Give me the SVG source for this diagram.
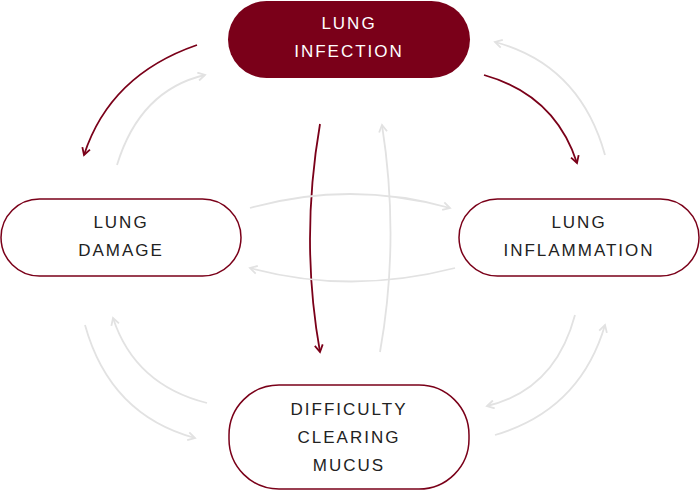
<svg xmlns="http://www.w3.org/2000/svg" width="700" height="491" viewBox="0 0 700 491">
<style>
.n{fill:#fff;stroke:#7a0019;stroke-width:1.5}
.t{font-family:"Liberation Sans",Arial,sans-serif;font-size:17px;letter-spacing:2px;fill:#222;text-anchor:middle}
.r{fill:none;stroke:#7a0019;stroke-width:1.8}
.g{fill:none;stroke:#e2e2e2;stroke-width:1.8}
</style>
<defs>
<marker id="mr" viewBox="0 0 10 10" refX="8" refY="5" markerWidth="10" markerHeight="10" orient="auto" markerUnits="userSpaceOnUse"><path d="M1,1 L8,5 L1,9" fill="none" stroke="#7a0019" stroke-width="1.8"/></marker>
<marker id="mg" viewBox="0 0 10 10" refX="8" refY="5" markerWidth="10" markerHeight="10" orient="auto" markerUnits="userSpaceOnUse"><path d="M1,1 L8,5 L1,9" fill="none" stroke="#e2e2e2" stroke-width="1.8"/></marker>
</defs>
<g id="connectors">
<path class="r" d="M197,45 Q110,75 84,155" marker-end="url(#mr)"/>
<path class="r" d="M484,75 Q555,95 577,163" marker-end="url(#mr)"/>
<path class="r" d="M320,124 Q300,240 320,352" marker-end="url(#mr)"/>
<path class="g" d="M117,165 Q140,90 205,75" marker-end="url(#mg)"/>
<path class="g" d="M605,155 Q580,65 495,42" marker-end="url(#mg)"/>
<path class="g" d="M250,208 Q350,180 450,208" marker-end="url(#mg)"/>
<path class="g" d="M455,268 Q350,295 250,268" marker-end="url(#mg)"/>
<path class="g" d="M380,352 Q400,240 382,125" marker-end="url(#mg)"/>
<path class="g" d="M85,325 Q110,415 195,438" marker-end="url(#mg)"/>
<path class="g" d="M207,403 Q135,385 113,318" marker-end="url(#mg)"/>
<path class="g" d="M575,315 Q555,390 487,406" marker-end="url(#mg)"/>
<path class="g" d="M495,435 Q580,410 605,325" marker-end="url(#mg)"/>
</g>
<g id="infection"><rect x="228" y="1" width="242" height="77" rx="38.5" fill="#7a0019"/>
<text class="t" x="349" y="29" style="fill:#fff">LUNG</text><text class="t" x="349" y="57" style="fill:#fff">INFECTION</text></g>
<g id="damage"><rect class="n" x="1" y="199" width="240" height="77" rx="38.5"/>
<text class="t" x="121" y="228">LUNG</text><text class="t" x="121" y="256">DAMAGE</text></g>
<g id="inflammation"><rect class="n" x="459" y="199" width="240" height="77" rx="38.5"/>
<text class="t" x="579" y="228">LUNG</text><text class="t" x="579" y="256">INFLAMMATION</text></g>
<g id="mucus"><rect class="n" x="229" y="385" width="240" height="104" rx="50"/>
<text class="t" x="349" y="415">DIFFICULTY</text><text class="t" x="349" y="443">CLEARING</text><text class="t" x="349" y="471">MUCUS</text></g>
</svg>
